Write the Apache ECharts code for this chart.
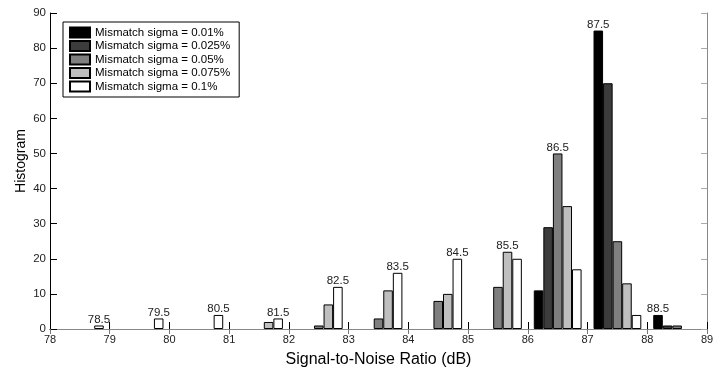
<!DOCTYPE html>
<html><head><meta charset="utf-8">
<script src="https://cdn.jsdelivr.net/npm/echarts@6/dist/echarts.min.js"></script>
<style>html,body{margin:0;padding:0;background:#fff}#c{width:725px;height:373px}</style>
</head><body><div id="c"></div>
<script>
// ---- data ----
const categories = [78.5, 79.5, 80.5, 81.5, 82.5, 83.5, 84.5, 85.5, 86.5, 87.5, 88.5];
const seriesNames = [
  'Mismatch sigma = 0.01%',
  'Mismatch sigma = 0.025%',
  'Mismatch sigma = 0.05%',
  'Mismatch sigma = 0.075%',
  'Mismatch sigma = 0.1%'
];
const sigma001  = [0, 0, 0, 0, 0, 0, 0, 0, 11, 85, 4];
const sigma0025 = [0, 0, 0, 0, 0, 0, 0, 0, 29, 70, 1];
const sigma005  = [0, 0, 0, 0, 1, 3, 8, 12, 50, 25, 1];
const sigma0075 = [0, 0, 0, 2, 7, 11, 10, 22, 35, 13, 0];
const sigma01   = [1, 3, 4, 3, 12, 16, 20, 20, 17, 4, 0];
const xTicks = [78, 79, 80, 81, 82, 83, 84, 85, 86, 87, 88, 89];
const yTicks = [0, 10, 20, 30, 40, 50, 60, 70, 80, 90];

// ---- chart ----
const seriesValues = [sigma001, sigma0025, sigma005, sigma0075, sigma01];
const colors = ['#000000', '#3c3c3c', '#7f7f7f', '#bfbfbf', '#ffffff'];
const FONT = '"Liberation Sans", Arial, sans-serif';

const groupMax = categories.map((c, i) => Math.max(...seriesValues.map(v => v[i])));
const maxOwner = categories.map((c, i) => seriesValues.findIndex(v => v[i] === groupMax[i]));

const series = seriesValues.map((vals, s) => ({
  type: 'bar',
  name: seriesNames[s],
  xAxisIndex: 0,
  yAxisIndex: 0,
  barGap: '0%',
  barCategoryGap: '20%',
  itemStyle: { color: colors[s], borderColor: '#000', borderWidth: 1 },
  label: {
    position: 'top', distance: 0, fontSize: 11.5, color: '#222', fontFamily: FONT,
    formatter: p => p.value[0].toFixed(1)
  },
  emphasis: { disabled: true },
  data: vals.map((v, i) => ({
    value: [categories[i], v === 0 ? '-' : v],
    label: { show: maxOwner[i] === s }
  }))
}));

const chart = echarts.init(document.getElementById('c'), null, { renderer: 'canvas' });
chart.setOption({
  animation: false,
  backgroundColor: '#fff',
  textStyle: { fontFamily: FONT },
  grid: { left: 50, right: 18, top: 13, bottom: 43, containLabel: false },
  legend: {
    orient: 'vertical',
    left: 63, top: 22,
    data: seriesNames,
    icon: 'rect',
    itemWidth: 20, itemHeight: 10, itemGap: 0.5,
    padding: [4, 9, 4, 6],
    borderColor: '#000', borderWidth: 1, backgroundColor: '#fff',
    selectedMode: false,
    textStyle: { fontSize: 11.5, color: '#000', fontFamily: FONT, lineHeight: 13 }
  },
  xAxis: [
    {
      type: 'value', position: 'bottom', min: xTicks[0], max: xTicks[xTicks.length - 1], interval: 1,
      name: 'Signal-to-Noise Ratio (dB)', nameLocation: 'middle', nameGap: 23, nameMoveOverlap: false,
      nameTextStyle: { fontSize: 16, color: '#000', fontFamily: FONT },
      axisLine: { show: true, lineStyle: { color: '#000', width: 1 } },
      axisTick: { show: true, inside: true, length: 7, lineStyle: { color: '#000' } },
      axisLabel: { fontSize: 11, color: '#222', margin: 5, fontFamily: FONT },
      splitLine: { show: false }
    },
    {
      type: 'value', position: 'top', min: xTicks[0], max: xTicks[xTicks.length - 1], interval: 1,
      axisLine: { show: true, lineStyle: { color: '#888', width: 1 } },
      axisTick: { show: true, inside: true, length: 5, lineStyle: { color: '#777' } },
      axisLabel: { show: false },
      splitLine: { show: false }
    }
  ],
  yAxis: [
    {
      type: 'value', position: 'left', min: yTicks[0], max: yTicks[yTicks.length - 1], interval: 10,
      name: 'Histogram', nameLocation: 'middle', nameGap: 22, nameMoveOverlap: false,
      nameTextStyle: { fontSize: 14, color: '#000', fontFamily: FONT, padding: [0, 0, 0, 20] },
      axisLine: { show: true, lineStyle: { color: '#000', width: 1 } },
      axisTick: { show: true, inside: true, length: 7, lineStyle: { color: '#000' } },
      axisLabel: { fontSize: 11.5, color: '#222', margin: 4, fontFamily: FONT },
      splitLine: { show: false }
    },
    {
      type: 'value', position: 'right', min: yTicks[0], max: yTicks[yTicks.length - 1], interval: 10,
      axisLine: { show: true, lineStyle: { color: '#888', width: 1 } },
      axisTick: { show: true, inside: true, length: 6, lineStyle: { color: '#aaa' } },
      axisLabel: { show: false },
      splitLine: { show: false }
    }
  ],
  series: series
});
</script></body></html>
